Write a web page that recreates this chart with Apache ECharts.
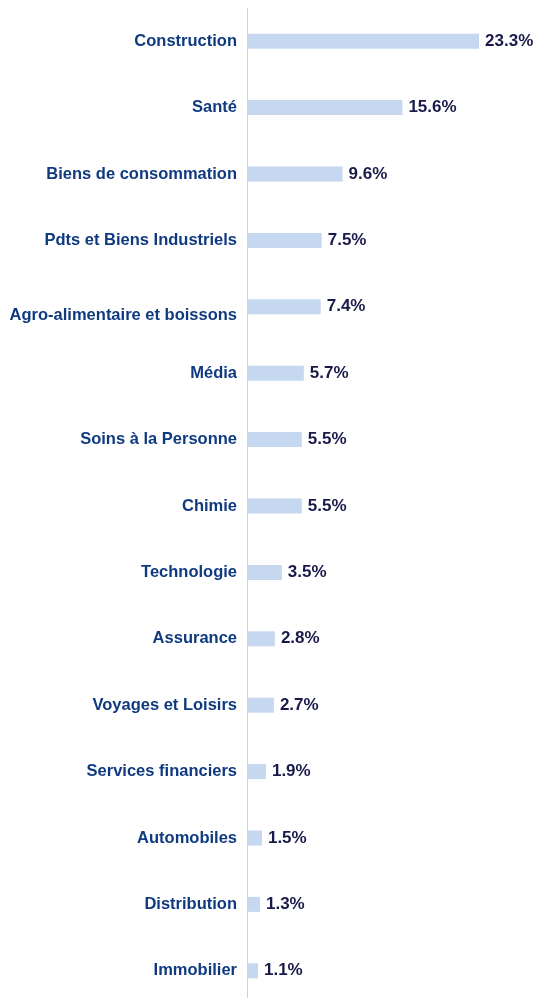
<!DOCTYPE html>
<html>
<head>
<meta charset="utf-8">
<script src="https://cdn.jsdelivr.net/npm/echarts@6/dist/echarts.min.js"></script>
<style>
  html, body { margin: 0; padding: 0; background: #fff; overflow: hidden; }
  #chart { width: 536px; height: 1012px; }
</style>
</head>
<body>
<div id="chart"></div>
<script>
var categories = ['Construction', 'Santé', 'Biens de consommation', 'Pdts et Biens Industriels',
  'Agro-alimentaire et boissons', 'Média', 'Soins à la Personne', 'Chimie', 'Technologie',
  'Assurance', 'Voyages et Loisirs', 'Services financiers', 'Automobiles', 'Distribution', 'Immobilier'];
var weights = [23.3, 15.6, 9.6, 7.5, 7.4, 5.7, 5.5, 5.5, 3.5, 2.8, 2.7, 1.9, 1.5, 1.3, 1.1];

var chart = echarts.init(document.getElementById('chart'));

var option = {
  animation: false,
  grid: { left: 247, top: 8, width: 249, height: 996 },
  xAxis: {
    type: 'value',
    min: 0,
    max: 25,
    show: false
  },
  yAxis: {
    type: 'category',
    inverse: true,
    data: categories,
    axisLine: { show: true, lineStyle: { color: '#d0d0d0', width: 1 } },
    axisTick: { show: false },
    axisLabel: {
      margin: 10,
      color: '#0f3a80',
      fontFamily: 'Liberation Sans, Arial, sans-serif',
      fontWeight: 'bold',
      fontSize: 16.5,
      lineHeight: 18,
      // the Agro label sits half a line lower than its bar in the reference
      formatter: function (v) {
        return v === 'Agro-alimentaire et boissons' ? '\n' + v : v;
      }
    }
  },
  series: [{
    type: 'bar',
    data: weights,
    barWidth: 15,
    itemStyle: { color: '#c6d7f0' },
    label: {
      show: true,
      position: 'right',
      distance: 6,
      formatter: function (p) { return p.value.toFixed(1) + '%'; },
      color: '#1a1a4a',
      fontFamily: 'Liberation Sans, Arial, sans-serif',
      fontWeight: 'bold',
      fontSize: 17
    }
  }]
};

chart.setOption(option);
</script>
</body>
</html>
